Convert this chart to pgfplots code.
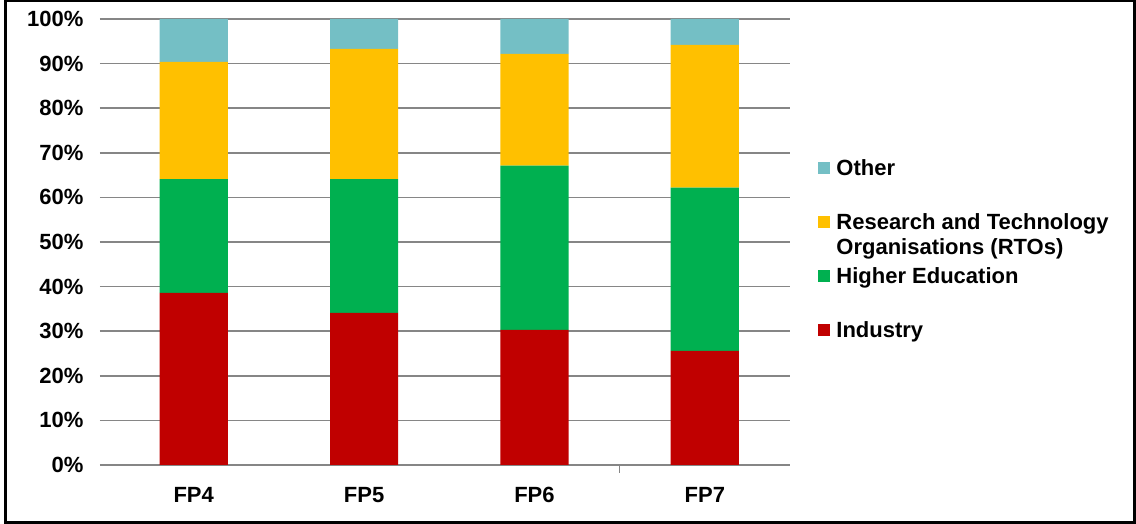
\documentclass[border=0pt]{standalone}
\usepackage{fontspec}
\setmainfont{Liberation Sans}
\usepackage{pgfplots}
\pgfplotsset{compat=1.18}
\definecolor{cInd}{HTML}{C00000}
\definecolor{cHE}{HTML}{00B050}
\definecolor{cRTO}{HTML}{FFC000}
\definecolor{cOth}{HTML}{74BFC5}
\definecolor{gridgray}{RGB}{134,134,134}
\begin{document}
\begin{tikzpicture}
\useasboundingbox (0,0) rectangle (568pt,262pt);
\draw[line width=1.5pt] (2.75pt,0.6pt) rectangle (567.3pt,261.5pt);
\begin{axis}[
    at={(50pt,29.5pt)}, anchor=south west,
    scale only axis, width=345pt, height=223pt,
    ybar stacked, bar width=0.4,
    xmin=-0.55, xmax=3.5, ymin=0, ymax=100,
    xtick={0,1,2,3}, xticklabels={FP4,FP5,FP6,FP7},
    ytick={0,10,...,100},
    xtick pos=bottom,
    /pgf/number format/assume math mode=true,
    yticklabel={\pgfmathprintnumber{\tick}\%},
    tick label style={font=\fontsize{11pt}{12.5pt}\selectfont\bfseries},
    yticklabel style={xshift=-4.8pt},
    xticklabel style={yshift=-7.3pt, text height=8pt, text depth=2pt},
    major tick length=0pt,
    axis line style={draw=none},
    ymajorgrids, grid style={gridgray, line width=0.8pt},
    extra x ticks={2.5}, extra x tick labels={},
    extra x tick style={major tick length=4pt, tick align=outside,
        tick style={gridgray, line width=0.6pt}},
    reverse legend,
    legend style={at={(1.0406,0.686)}, anchor=north west, draw=none,
        inner sep=0pt, row sep=17pt, column sep=3pt,
        font=\fontsize{11pt}{12.5pt}\selectfont\bfseries,
        nodes={inner sep=0pt, text height=8pt, text depth=2pt},
        cells={anchor=base west}},
    legend image code/.code={\fill[#1] (0pt,0.8pt) rectangle (6pt,6.8pt);},
]
\addplot[fill=cInd, draw=none] coordinates {(0,38.6) (1,34.1) (2,30.3) (3,25.6)};
\addplot[fill=cHE, draw=none] coordinates {(0,25.5) (1,30.0) (2,36.8) (3,36.6)};
\addplot[fill=cRTO, draw=none] coordinates {(0,26.3) (1,29.2) (2,25.1) (3,32.0)};
\addplot[fill=cOth, draw=none] coordinates {(0,9.6) (1,6.7) (2,7.8) (3,5.8)};
\legend{Industry, Higher Education,
    {\vtop{\hbox{Research and Technology}\hbox{Organisations (RTOs)}}}, Other}
\end{axis}
\end{tikzpicture}
\end{document}
